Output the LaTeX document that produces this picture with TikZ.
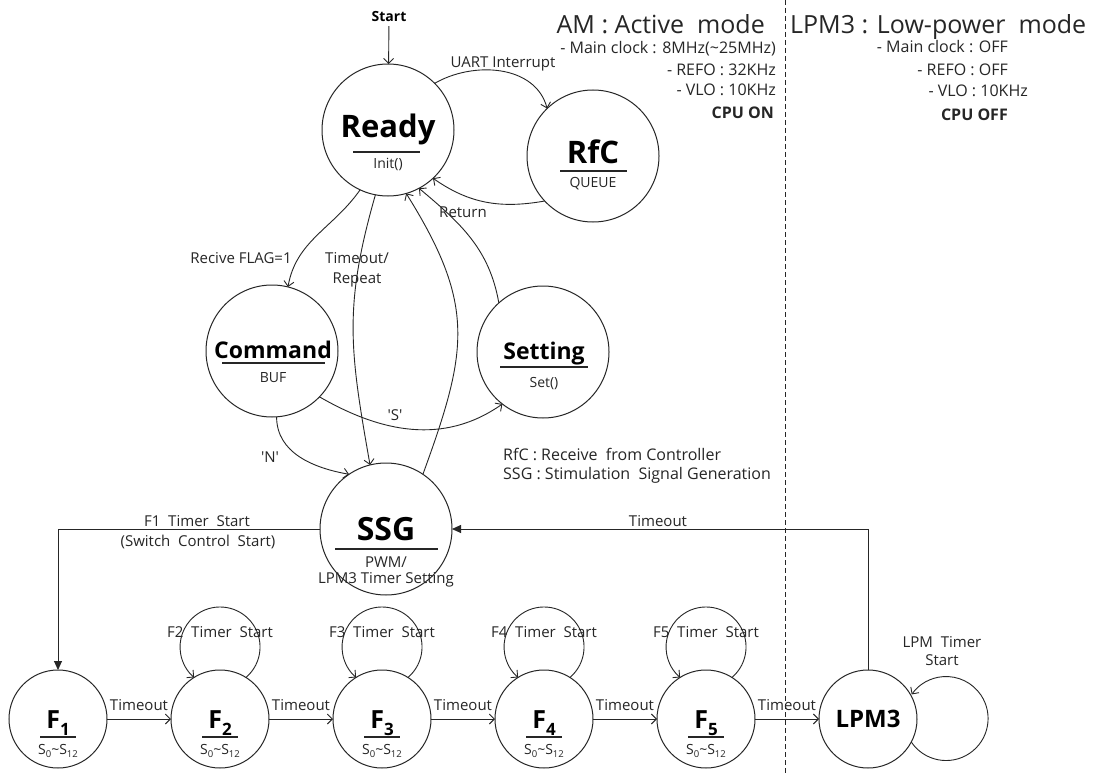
\documentclass[tikz,border=0pt]{standalone}
\usepackage{fontspec}
\setmainfont{Open Sans}
\usetikzlibrary{arrows.meta,calc}

\newcommand\fs[1]{\fontsize{#1}{#1}\selectfont}
% sub-state range S_0 ~ S_12
\newcommand\Srange{{\fs{14}S\raisebox{-2.5pt}{\fs{9.5}0}\textasciitilde S\raisebox{-2.5pt}{\fs{9.5}12}}}
% timer state label F_i
\newcommand\Flabel[1]{{\fs{25}\bfseries F}\raisebox{-7pt}{\fs{17}\bfseries #1}}

\begin{document}
\begin{tikzpicture}[x=1pt,y=1pt,
  state/.style={circle, draw=black!85, line width=1pt, minimum size=132pt, inner sep=0pt, outer sep=0pt},
  fstate/.style={state, minimum size=98pt},
  bigtxt/.style={font=\fs{31}\bfseries, anchor=base, inner sep=0pt},
  midtxt/.style={font=\fs{23}\bfseries, anchor=base, inner sep=0pt},
  subtxt/.style={font=\fs{14}, anchor=base, inner sep=0pt, text=black!85},
  lbltxt/.style={font=\fs{15}, anchor=base, inner sep=0pt, text=black!85},
  infotxt/.style={font=\fs{16}, anchor=base east, inner sep=0pt, text=black!85},
  headtxt/.style={font=\fs{25}, inner sep=0pt, text=black!85},
  rulestyle/.style={line width=1.1pt, draw=black!85},
  arr/.style={draw=black!85, line width=0.9pt, -{Straight Barb[length=5pt,width=10pt,line width=0.9pt]}},
  farr/.style={draw=black!85, line width=0.9pt, -{Triangle[length=9pt,width=8pt]}},
  sepline/.style={draw=black!85, line width=0.9pt, dash pattern=on 5pt off 3pt}
]
\useasboundingbox[fill=white] (0,0) rectangle (1100,-773);

% ---------- upper states ----------
\node[state] (ready)   at (388,-130) {};
\node[state] (rfc)     at (593,-156) {};
\node[state] (command) at (272,-351) {};
\node[state] (setting) at (543,-352) {};
\node[state] (ssg)     at (386,-529) {};

\node[bigtxt] (ready-n) at (388,-138) {Ready};
\draw[rulestyle] ($(ready)+(-35,-22)$) -- ++(67,0);
\node[subtxt] (ready-s) at (388,-168) {Init()};

\node[bigtxt] (rfc-n) at (593,-163) {RfC};
\draw[rulestyle] ($(rfc)+(-33,-15)$) -- ++(67,0);
\node[subtxt] (rfc-s) at (593,-187) {QUEUE};

\node[midtxt] (command-n) at (273,-358) {Command};
\draw[rulestyle] ($(command)+(-50,-12)$) -- ++(103,0);
\node[subtxt] (command-s) at (273,-382) {BUF};

\node[midtxt] (setting-n) at (544,-359) {Setting};
\draw[rulestyle] ($(setting)+(-43,-15)$) -- ++(88,0);
\node[subtxt] (setting-s) at (544,-387) {Set()};

\node[bigtxt, font=\fs{32}\bfseries] (ssg-n) at (386,-540) {SSG};
\draw[rulestyle] ($(ssg)+(-51,-20)$) -- ++(103,0);
\node[lbltxt] (ssg-s1) at (386,-567) {PWM/};
\node[lbltxt] (ssg-s2) at (386,-583) {LPM3 Timer Setting};

% ---------- start ----------
\node[font=\fs{14}\bfseries, anchor=base, inner sep=0pt, outer sep=4pt] (start) at (389,-22) {Start};
\draw[arr] (start) -- (ready);

% ---------- upper transitions ----------
\draw[arr] (ready.45) to[out=30,in=105] (rfc.134);
\node[lbltxt] (uart) at (503,-67.5) {UART Interrupt};

\draw[arr] (rfc.223) to[out=190,in=-35] (ready.-47);
\node[lbltxt] (ret) at (463,-217) {Return};

\draw[arr] (ready.-115) to[out=-125,in=80] (command.76);
\node[lbltxt] (flag) at (241,-263.5) {Recive FLAG=1};

\draw[arr] (ready.-101) to[out=-106,in=100,looseness=1.1] (ssg.104);
\node[lbltxt] (rep1) at (357,-263.5) {Timeout/};
\node[lbltxt] (rep2) at (357,-283.5) {Repeat};

\draw[arr] (ssg.56) to[out=70,in=-58,looseness=1.2] (ready.-74);
\draw[arr] (setting.132) to[out=100,in=-40] (ready.-62);

\draw[arr] (command.-44) to[out=-30,in=215] (setting.232);
\node[lbltxt] (lblS) at (395,-420) {\textquotesingle S\textquotesingle};

\draw[arr] (command.-86) to[out=-90,in=170] (ssg.124);
\node[lbltxt] (lblN) at (270,-462) {\textquotesingle N\textquotesingle};

% ---------- legend ----------
\node[font=\fs{16}, anchor=base west, inner sep=0pt, text=black!85] (leg1) at (503,-460.7) {RfC : Receive \ from Controller};
\node[font=\fs{16}, anchor=base west, inner sep=0pt, text=black!85] (leg2) at (503,-479.7) {SSG : Stimulation \ Signal Generation};

% ---------- timer states ----------
\foreach \i/\x in {1/58,2/220,3/382,4/544,5/706}{
  \node[fstate] (f\i) at (\x,-719) {};
  \node[anchor=base, inner sep=0pt] (f\i-n) at (\x,-728) {\Flabel{\i}};
  \draw[rulestyle] ($(f\i)+(-18,-18)$) -- ++(36,0);
  \node[anchor=base, inner sep=0pt, text=black!85] (f\i-s) at (\x,-754.5) {\Srange};
}
\node[fstate] (lpm) at (868,-719) {};
\node[bigtxt, font=\fs{24}\bfseries] (lpm-n) at (868,-727.6) {LPM3};

% self loops of the timer states
\foreach \i in {2,...,5}{
  \draw[arr] (f\i.58) arc[start angle=-49.6, end angle=229.6, radius=40];
  \node[lbltxt] (loop\i) at ($(f\i)+(0,81.5)$) {F\i\ \ Timer \ Start};
}
\draw[arr] (lpm.-28) arc[start angle=214, end angle=505, radius=42];
\node[lbltxt] (lpmloop1) at (942,-647.5) {LPM \ Timer};
\node[lbltxt] (lpmloop2) at (942,-665.5) {Start};

% timeout chain
\foreach \a/\b in {1/2,2/3,3/4,4/5}{
  \draw[arr] (f\a) -- node[lbltxt, yshift=8.5pt] (to\a) {Timeout} (f\b);
}
\draw[arr] (f5) -- node[lbltxt, yshift=8.5pt] (to5) {Timeout} (lpm);

% SSG <-> timer chain
\draw[farr] (ssg.west) -| (f1.north);
\node[lbltxt] (f1start1) at (197,-526.5) {F1 \ Timer \ Start};
\node[lbltxt] (f1start2) at (198,-546.5) {(Switch \ Control \ Start)};
\draw[farr] (lpm.north) |- (ssg.east);
\node[lbltxt] (lpmtimeout) at (658,-526.5) {Timeout};

% ---------- power mode separator and notes ----------
\coordinate (sepTop) at (785,0);
\coordinate (sepBot) at (785,-773);
\draw[sepline] (sepTop) -- (sepBot);

\node[headtxt, anchor=base east] (amhead) at (765,-34) {AM : Active \ mode};
\node[infotxt] (am1) at (776,-53.7) {- Main clock : 8MHz(\textasciitilde25MHz)};
\node[infotxt] (am2) at (776,-75.7) {- REFO : 32KHz};
\node[infotxt] (am3) at (776,-95.7) {- VLO : 10KHz};
\node[infotxt, font=\fs{16}\bfseries] (am4) at (774,-118.7) {CPU ON};

\node[headtxt, anchor=base west] (lpmhead) at (790,-34) {LPM3 : Low-power \ mode};
\node[infotxt] (lp1) at (1008,-52.7) {- Main clock : OFF};
\node[infotxt] (lp2) at (1008,-75.7) {- REFO : OFF};
\node[infotxt] (lp3) at (1028,-96.7) {- VLO : 10KHz};
\node[infotxt, font=\fs{16}\bfseries] (lp4) at (1008,-120.7) {CPU OFF};
\end{tikzpicture}
\end{document}
